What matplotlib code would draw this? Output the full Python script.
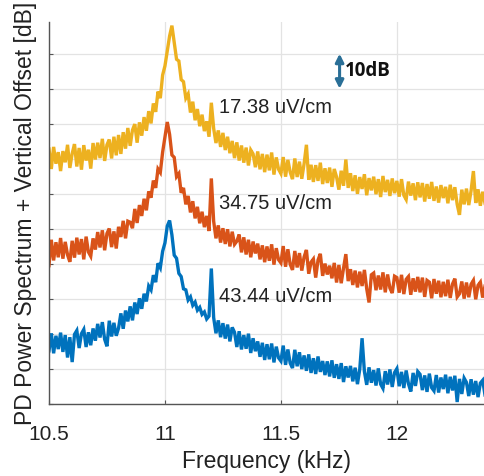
import numpy as np
import matplotlib
matplotlib.use("Agg")
import matplotlib.pyplot as plt

plt.rcParams['font.family'] = ['Liberation Sans', 'DejaVu Sans']

# Frequency axis (kHz): 10.50 ... 12.38 in 0.01 kHz bins
freq_start = 10.50
freq_step = 0.01

# PD power spectrum + vertical offset [dB]
yellow_1738 = [
    72.8, 67.1, 73.4, 68.6, 71.9, 66.5, 72.2, 69.0, 74.0, 67.4,
    71.5, 74.2, 67.8, 73.1, 66.9, 73.9, 69.5, 72.6, 67.2, 74.5,
    69.8, 74.6, 70.2, 75.7, 69.4, 74.0, 75.5, 70.1, 76.3, 71.0,
    76.8, 71.4, 77.6, 72.9, 78.8, 73.7, 78.2, 79.9, 74.6, 80.4,
    76.6, 81.9, 78.0, 83.6, 80.1, 85.8, 83.4, 89.2, 87.3, 93.9,
    96.5, 100.8, 105.0, 108.0, 103.3, 98.4, 97.9, 92.6, 92.0, 87.3,
    88.5, 83.2, 86.3, 81.0, 84.2, 79.3, 82.6, 77.9, 80.7, 76.3,
    86.0, 78.7, 74.5, 78.1, 73.4, 77.4, 72.5, 76.3, 71.6, 75.1,
    70.2, 74.7, 69.5, 73.8, 68.9, 73.2, 68.1, 72.5, 71.4, 67.6,
    72.1, 67.0, 71.4, 66.2, 71.2, 66.7, 71.8, 65.5, 70.4, 67.0,
    65.8, 70.5, 64.9, 69.7, 66.2, 64.2, 70.1, 64.8, 69.2, 64.3,
    68.6, 74.0, 64.0, 68.3, 63.4, 68.2, 63.7, 68.9, 62.8, 67.3,
    63.1, 67.5, 62.0, 67.1, 64.8, 61.2, 66.6, 62.3, 69.8, 61.7,
    65.9, 60.8, 65.3, 60.0, 64.8, 61.4, 65.6, 59.6, 64.5, 61.0,
    64.9, 59.9, 64.2, 59.1, 65.1, 60.5, 64.0, 59.4, 64.4, 60.2,
    63.7, 59.2, 64.2, 59.6, 58.4, 63.5, 59.5, 63.0, 58.2, 63.3,
    59.0, 63.1, 57.8, 62.8, 58.6, 63.4, 58.0, 62.1, 57.5, 62.5,
    58.8, 62.0, 57.3, 62.6, 58.2, 61.9, 57.0, 54.0, 61.2, 57.0,
    61.5, 56.8, 60.9, 66.5, 57.4, 61.3, 56.6, 60.6, 57.3,
]

orange_3475 = [
    39.5, 46.9, 41.0, 46.2, 41.9, 47.4, 41.5, 46.3, 42.6, 40.6,
    46.6, 41.8, 47.5, 42.7, 47.1, 41.3, 47.8, 43.4, 42.2, 47.3,
    44.1, 49.1, 44.7, 49.6, 43.9, 48.7, 50.1, 44.8, 49.3, 44.4,
    50.6, 47.7, 52.3, 47.3, 52.2, 51.9, 50.2, 55.7, 51.7, 56.8,
    53.7, 58.6, 55.3, 60.7, 58.9, 63.8, 61.7, 67.1, 66.1, 71.9,
    76.3, 80.5, 77.0, 71.1, 70.4, 64.9, 65.8, 60.3, 61.7, 57.0,
    59.4, 54.7, 57.9, 53.0, 56.3, 51.6, 54.9, 50.5, 53.7, 49.4,
    64.4, 52.2, 47.3, 51.0, 46.1, 50.2, 45.7, 49.9, 45.0, 49.2,
    45.6, 46.5, 48.4, 43.3, 47.6, 42.7, 46.9, 41.9, 46.4, 43.0,
    45.8, 41.3, 45.3, 40.5, 45.0, 40.9, 45.6, 39.8, 44.5, 41.2,
    40.3, 45.1, 39.2, 44.2, 39.9, 38.3, 43.7, 39.0, 43.1, 38.1,
    42.0, 44.0, 37.2, 40.5, 41.4, 36.1, 41.1, 42.9, 36.6, 40.1,
    37.0, 39.5, 35.9, 40.3, 34.7, 39.7, 34.5, 38.8, 42.8, 35.1,
    38.5, 34.0, 38.1, 33.3, 37.8, 33.7, 38.3, 32.9, 29.0, 36.9,
    37.4, 32.5, 36.7, 32.7, 37.6, 31.9, 37.0, 33.1, 31.7, 36.5,
    36.1, 31.8, 36.9, 31.4, 35.6, 36.4, 31.2, 35.9, 32.1, 36.3,
    31.9, 36.1, 30.6, 35.3, 34.8, 30.2, 35.7, 31.5, 35.2, 30.5,
    34.9, 30.8, 35.5, 30.3, 34.3, 35.8, 30.6, 31.5, 35.0, 30.1,
    34.7, 30.5, 34.2, 35.3, 29.9, 33.9, 34.8, 30.4, 33.7,
]

blue_4344 = [
    15.2, 20.2, 14.5, 19.5, 15.7, 20.4, 14.9, 19.7, 13.3, 19.1,
    12.0, 19.9, 21.0, 16.0, 20.1, 21.3, 16.3, 20.5, 16.8, 21.6,
    18.1, 22.9, 19.0, 23.4, 18.5, 16.5, 23.8, 19.3, 23.2, 19.5,
    21.7, 25.9, 21.5, 26.7, 23.6, 27.9, 23.9, 29.0, 25.7, 30.2,
    27.2, 31.5, 29.3, 33.7, 32.6, 36.8, 34.8, 40.2, 38.9, 43.6,
    46.0, 50.8, 52.4, 48.3, 42.5, 41.6, 37.3, 36.4, 32.9, 32.6,
    29.7, 30.6, 28.2, 29.1, 26.8, 27.6, 25.6, 26.3, 24.3, 25.1,
    38.7, 24.7, 20.2, 23.9, 19.1, 23.1, 18.7, 22.7, 17.9, 21.9,
    20.5, 16.3, 20.8, 15.6, 19.7, 15.8, 20.1, 14.6, 18.8, 15.1,
    17.9, 13.5, 17.5, 12.6, 17.1, 12.8, 17.3, 11.9, 16.4, 13.2,
    12.3, 16.7, 11.2, 15.6, 11.7, 10.3, 15.5, 10.8, 14.8, 10.0,
    13.9, 9.5, 14.2, 8.9, 13.1, 8.6, 13.6, 9.2, 12.3, 8.3,
    12.2, 7.9, 12.5, 7.5, 11.4, 7.2, 11.7, 6.3, 10.8, 7.6,
    10.9, 6.5, 10.4, 5.7, 10.0, 18.8, 9.3, 5.5, 10.5, 6.1,
    9.7, 5.3, 10.2, 5.7, 4.5, 9.4, 5.6, 9.9, 4.9, 9.0,
    10.1, 5.1, 9.2, 4.6, 9.6, 5.8, 3.6, 8.9, 5.2, 9.3,
    8.5, 4.0, 8.2, 3.5, 8.7, 4.7, 3.8, 8.3, 3.3, 7.6,
    4.3, 8.4, 3.1, 7.8, 3.9, 8.1, 0.6, 7.2, 2.9, 7.4,
    6.2, 2.3, 7.1, 2.7, 6.6, 2.0, 6.0, 6.8, 2.6,
]

series_labels = ["17.38 uV/cm", "34.75 uV/cm", "43.44 uV/cm"]
label_x = [11.235, 11.235, 11.235]
label_y = [84.6, 57.3, 30.8]
x_ticks = [10.5, 11, 11.5, 12]
x_tick_labels = ["10.5", "11", "11.5", "12"]

colors = ["#EDB120", "#D95319", "#0072BD"]

n = len(yellow_1738)
freq = np.round(freq_start + freq_step * np.arange(n), 2)

fig = plt.figure(figsize=(4.85, 4.76), dpi=100)
ax = fig.add_axes([0.101, 0.151, 0.899, 0.8025])

for vals, c in zip([blue_4344, orange_3475, yellow_1738], colors[::-1]):
    ax.plot(freq, vals, color=c, lw=2.4, solid_joinstyle='miter')

ax.set_xlim(10.5, 12.38)
ax.set_ylim(0, 109)
ax.set_xticks(x_ticks)
ax.set_xticklabels(x_tick_labels, fontsize=15)
ax.set_yticks(np.arange(0, 101, 10))
ax.set_yticklabels([])
ax.grid(True, color="#e3e3e3", lw=0.9)
ax.set_axisbelow(True)
for s in ["top", "right"]:
    ax.spines[s].set_visible(False)
for s in ["left", "bottom"]:
    ax.spines[s].set_color("#555555")
    ax.spines[s].set_linewidth(1.0)
ax.tick_params(direction="in", length=3, color="#555555", labelcolor="#222222", pad=15)

for t, xx, yy in zip(series_labels, label_x, label_y):
    ax.text(xx, yy, t, fontsize=14.5, color="#222222", va="center", ha="left")

ax.annotate("", xy=(11.753, 100), xytext=(11.753, 90),
            arrowprops=dict(arrowstyle="<|-|>", color="#2A6F97", lw=2.2,
                            mutation_scale=12, shrinkA=0, shrinkB=0))
ax.text(11.775, 95, "10dB", fontsize=13.5, fontweight="bold", color="#111111",
        va="center", ha="left", family=["Open Sans", "DejaVu Sans"])

ax.set_xlabel("Frequency (kHz)", fontsize=16.5, color="#222222", labelpad=4)
ax.set_ylabel("PD Power Spectrum + Vertical Offset [dB]", fontsize=16.5,
              color="#222222")
ax.yaxis.set_label_coords(-0.028, 0.5)

fig.savefig("out.png", dpi=100)
